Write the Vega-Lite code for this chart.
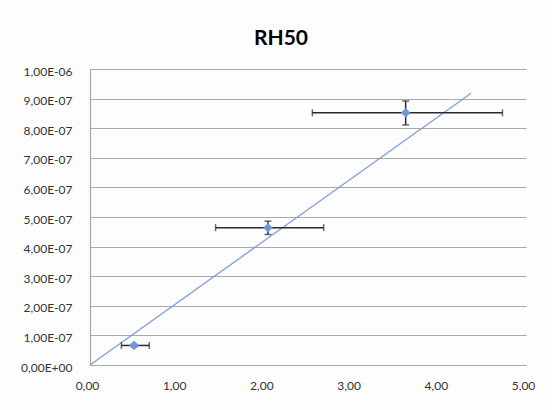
{
  "$schema": "https://vega.github.io/schema/vega-lite/v6.json",
  "width": 436,
  "height": 296,
  "autosize": "none",
  "padding": {"left": 90, "top": 69, "right": 26, "bottom": 45},
  "background": "#fdfdfd",
  "title": {
    "text": "RH50",
    "font": "Lato",
    "fontSize": 21,
    "fontWeight": "bold",
    "color": "#000000",
    "anchor": "middle",
    "frame": "group",
    "dx": -27,
    "offset": 16
  },
  "config": {
    "view": {"stroke": null},
    "axis": {
      "labelFont": "Lato",
      "labelFontSize": 12,
      "labelColor": "#333333",
      "gridColor": "#a8a8a8",
      "gridWidth": 1.2,
      "domainColor": "#a8a8a8",
      "domainWidth": 1.2,
      "ticks": false,
      "labelFlush": false,
      "labelOverlap": false,
      "title": null
    }
  },
  "datasets": {
    "pts": [
      {"x": 0.505, "y": 6.6e-8, "xlo": 0.36, "xhi": 0.68, "ylo": 6.2e-8, "yhi": 7.0e-8},
      {"x": 2.04, "y": 4.64e-7, "xlo": 1.44, "xhi": 2.68, "ylo": 4.41e-7, "yhi": 4.86e-7},
      {"x": 3.62, "y": 8.52e-7, "xlo": 2.55, "xhi": 4.73, "ylo": 8.11e-7, "yhi": 8.92e-7}
    ],
    "trend": [
      {"tx": 0, "ty": 0},
      {"tx": 4.37, "ty": 9.18e-7}
    ]
  },
  "layer": [
    {
      "data": {"name": "trend"},
      "mark": {"type": "line", "color": "#7b9fd6", "strokeWidth": 1.3},
      "encoding": {
        "x": {"field": "tx", "type": "quantitative", "scale": {"domain": [0, 5]},
          "axis": {"values": [0, 1, 2, 3, 4, 5], "tickCount": 50, "grid": false, "labelPadding": 15, "labelOffset": -3,
            "labelExpr": "replace(format(datum.value, '.2f'), '.', ',')"}},
        "y": {"field": "ty", "type": "quantitative", "scale": {"domain": [0, 1e-6]},
          "axis": {"values": [0, 1e-7, 2e-7, 3e-7, 4e-7, 5e-7, 6e-7, 7e-7, 8e-7, 9e-7, 1e-6], "tickCount": 50, "labelPadding": 18, "labelOffset": 2,
            "labelExpr": "datum.value == 0 ? '0,00E+00' : (datum.value > 9.99e-7 ? '1,00E-06' : replace(format(datum.value * 1e7, '.2f'), '.', ',') + 'E-07')"}}
      }
    },
    {
      "data": {"name": "pts"},
      "mark": {"type": "rule", "color": "#2b2b2b", "strokeWidth": 1.5},
      "encoding": {
        "x": {"field": "xlo", "type": "quantitative"},
        "x2": {"field": "xhi"},
        "y": {"field": "y", "type": "quantitative"}
      }
    },
    {
      "data": {"name": "pts"},
      "mark": {"type": "rule", "color": "#2b2b2b", "strokeWidth": 1.5},
      "encoding": {
        "x": {"field": "x", "type": "quantitative"},
        "y": {"field": "ylo", "type": "quantitative"},
        "y2": {"field": "yhi"}
      }
    },
    {
      "data": {"name": "pts"},
      "mark": {"type": "tick", "orient": "vertical", "color": "#2b2b2b", "size": 7, "thickness": 1.5},
      "encoding": {
        "x": {"field": "xlo", "type": "quantitative"},
        "y": {"field": "y", "type": "quantitative"}
      }
    },
    {
      "data": {"name": "pts"},
      "mark": {"type": "tick", "orient": "vertical", "color": "#2b2b2b", "size": 7, "thickness": 1.5},
      "encoding": {
        "x": {"field": "xhi", "type": "quantitative"},
        "y": {"field": "y", "type": "quantitative"}
      }
    },
    {
      "data": {"name": "pts"},
      "mark": {"type": "tick", "orient": "horizontal", "color": "#2b2b2b", "size": 7, "thickness": 1.5},
      "encoding": {
        "x": {"field": "x", "type": "quantitative"},
        "y": {"field": "ylo", "type": "quantitative"}
      }
    },
    {
      "data": {"name": "pts"},
      "mark": {"type": "tick", "orient": "horizontal", "color": "#2b2b2b", "size": 7, "thickness": 1.5},
      "encoding": {
        "x": {"field": "x", "type": "quantitative"},
        "y": {"field": "yhi", "type": "quantitative"}
      }
    },
    {
      "data": {"name": "pts"},
      "mark": {"type": "point", "shape": "diamond", "filled": true, "size": 90, "color": "#6e96d6", "opacity": 1},
      "encoding": {
        "x": {"field": "x", "type": "quantitative"},
        "y": {"field": "y", "type": "quantitative"}
      }
    }
  ]
}
